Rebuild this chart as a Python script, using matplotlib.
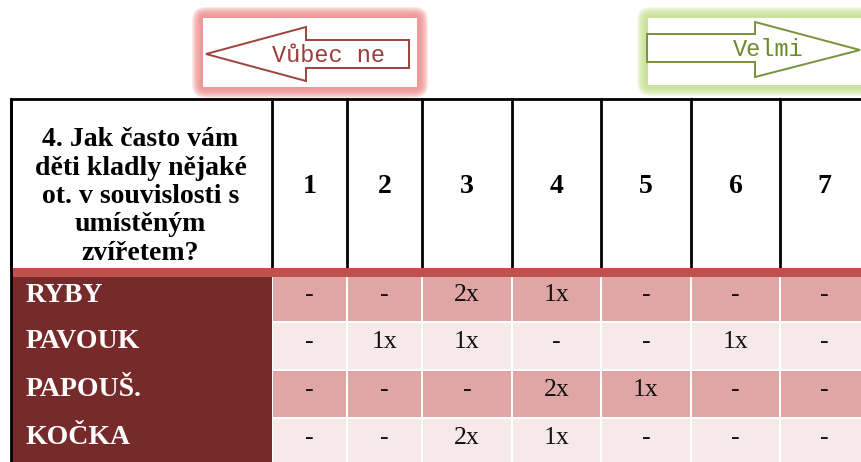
import numpy as np
import matplotlib.pyplot as plt
from matplotlib.patches import Rectangle, Polygon, FancyBboxPatch

# data
question = "4. Jak často vám\nděti kladly nějaké\not. v souvislosti s\numístěným\nzvířetem?"
scale = ['1', '2', '3', '4', '5', '6', '7']
animals = ['RYBY', 'PAVOUK', 'PAPOUŠ.', 'KOČKA']
counts = [[0, 0, 2, 1, 0, 0, 0],
          [0, 1, 1, 0, 0, 1, 0],
          [0, 0, 0, 2, 1, 0, 0],
          [0, 0, 2, 1, 0, 0, 0]]
left_label = 'Vůbec ne'
right_label = 'Velmi'

# layout (pixels)
W, H = 861, 462
col_edges = [11, 272, 347, 422, 512, 601, 691, 780, 869]
head_top, head_bot = 99, 268
bar_bot = 277
row_edges = [277, 323, 371, 419, 467]

serif = 'Liberation Serif'
dark = '#772A2A'
bar = '#C0504D'
row_cols = ['#DFA6A5', '#F5EAE9']

fig = plt.figure(figsize=(W / 100, H / 100), dpi=100)
ax = fig.add_axes([0, 0, 1, 1])
ax.set_xlim(0, W)
ax.set_ylim(H, 0)
ax.axis('off')


def glow(x0, y0, x1, y1, color):
    for k in range(11, 0, -1):
        ax.add_patch(FancyBboxPatch((x0 - k, y0 - k), x1 - x0 + 2 * k, y1 - y0 + 2 * k,
                                    boxstyle='round,pad=0,rounding_size=%d' % (k + 3),
                                    fc=color, ec='none', alpha=0.18, zorder=1))
    ax.add_patch(Rectangle((x0, y0), x1 - x0, y1 - y0, fc='white', ec='none', zorder=2))


# left arrow "Vubec ne"
glow(203, 18, 417, 87, '#EE8A8A')
ax.add_patch(Polygon([(206, 54), (306, 27), (306, 40), (409, 40), (409, 68), (306, 68), (306, 81)],
                     closed=True, fc='white', ec='#A0413F', lw=1.4, zorder=3))
ax.text(328, 55, left_label, family='Liberation Mono', fontsize=17, color='#9E3B3A',
        ha='center', va='center', zorder=4)

# right arrow "Velmi"
glow(648, 18, 875, 85, '#C6E08C')
ax.add_patch(Polygon([(647, 34), (755, 34), (755, 22), (860, 50), (755, 77), (755, 62), (647, 62)],
                     closed=True, fc='white', ec='#77933C', lw=1.4, zorder=3))
ax.text(768, 50, right_label, family='Liberation Mono', fontsize=17, color='#6B8A2E',
        ha='center', va='center', zorder=4)

# header row
ax.plot([col_edges[0], W], [head_top, head_top], color='black', lw=2, zorder=5)
for x in col_edges[:-1]:
    ax.plot([x, x], [head_top, head_bot], color='black', lw=2, zorder=5)
ax.text((col_edges[0] + col_edges[1]) / 2 - 1, (head_top + head_bot) / 2 + 13, question,
        family=serif, fontweight='bold', fontsize=20, ha='center', va='center',
        linespacing=1.18, zorder=6)
for j, s in enumerate(scale):
    ax.text((col_edges[j + 1] + col_edges[j + 2]) / 2, (head_top + head_bot) / 2 + 3, s,
            family=serif, fontweight='bold', fontsize=20, ha='center', va='center', zorder=6)

# red bar
ax.add_patch(Rectangle((col_edges[0], head_bot), W - col_edges[0], bar_bot - head_bot,
                       fc=bar, ec='none', zorder=7))

# data rows
ax.add_patch(Rectangle((col_edges[0], row_edges[0]), col_edges[1] - col_edges[0],
                       H - row_edges[0], fc=dark, ec='none', zorder=3))
for i, name in enumerate(animals):
    y0, y1 = row_edges[i], row_edges[i + 1]
    ax.text(26, (y0 + y1) / 2 - 5, name, family=serif, fontweight='bold', fontsize=20,
            color='white', ha='left', va='center', zorder=6)
    for j, c in enumerate(counts[i]):
        x0, x1 = col_edges[j + 1], col_edges[j + 2]
        ax.add_patch(Rectangle((x0 + 1, y0), x1 - x0 - 2, y1 - y0 - 2,
                               fc=row_cols[i % 2], ec='none', zorder=3))
        ax.text((x0 + x1) / 2, (y0 + y1) / 2 - 5, '%dx' % c if c else '-', family=serif,
                fontsize=18.5, color='#111111', ha='center', va='center', zorder=6)
ax.plot([col_edges[0], col_edges[0]], [head_top, H], color='black', lw=2, zorder=8)

fig.savefig('out.png', dpi=100)
